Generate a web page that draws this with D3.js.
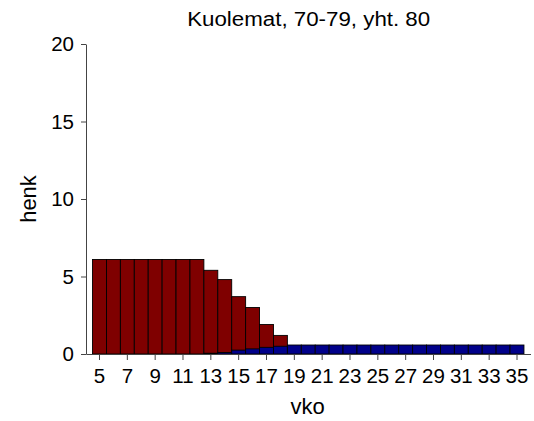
<!DOCTYPE html>
<html>
<head>
<meta charset="utf-8">
<script src="https://cdn.jsdelivr.net/npm/d3@7/dist/d3.min.js"></script>
<style>
  html, body { margin: 0; padding: 0; background: #fff; }
  svg { display: block; font-family: "Liberation Sans", Arial, sans-serif; }
</style>
</head>
<body>
<svg id="chart" width="534" height="421"></svg>
<script>
// Weekly deaths, age group 70-79
const weeks = [5, 6, 7, 8, 9, 10, 11, 12, 13, 14, 15, 16, 17, 18, 19, 20,
               21, 22, 23, 24, 25, 26, 27, 28, 29, 30, 31, 32, 33, 34, 35];
const seriesRed = [6.1, 6.1, 6.1, 6.1, 6.1, 6.1, 6.1, 6.1, 5.4, 4.8, 3.7, 3.0, 1.9, 1.2, 0, 0,
                   0, 0, 0, 0, 0, 0, 0, 0, 0, 0, 0, 0, 0, 0, 0];
const seriesBlue = [0, 0, 0, 0, 0, 0, 0, 0, 0.05, 0.1, 0.25, 0.33, 0.43, 0.5, 0.58, 0.58,
                    0.58, 0.58, 0.58, 0.58, 0.58, 0.58, 0.58, 0.58, 0.58, 0.58, 0.58, 0.58, 0.58, 0.58, 0.58];
const xTickLabels = [5, 7, 9, 11, 13, 15, 17, 19, 21, 23, 25, 27, 29, 31, 33, 35];
const yTickValues = [0, 5, 10, 15, 20];
const titleText = "Kuolemat, 70-79, yht. 80";
const xTitle = "vko";
const yTitle = "henk";

const svg = d3.select("#chart");
const plotLeft = 86, plotRight = 530.5, plotTop = 44, plotBottom = 354;
const fontFamily = "Liberation Sans, Arial, sans-serif";

const x = d3.scaleBand()
  .domain(weeks)
  .range([plotLeft, plotRight])
  .paddingInner(0)
  .paddingOuter(0.47);

const y = d3.scaleLinear()
  .domain([0, 20])
  .range([plotBottom, plotTop]);

// red bars behind, blue bars drawn over them
const bars = [
  { values: seriesRed, fill: "#7f0000" },
  { values: seriesBlue, fill: "#00008a" }
];
bars.forEach(s => {
  svg.append("g")
    .selectAll("rect")
    .data(weeks.map((w, i) => ({ w, v: s.values[i] })).filter(d => d.v > 0))
    .join("rect")
    .attr("x", d => x(d.w))
    .attr("y", d => y(d.v))
    .attr("width", x.bandwidth())
    .attr("height", d => y(0) - y(d.v))
    .attr("fill", s.fill)
    .attr("stroke", "#000")
    .attr("stroke-width", 0.9);
});

// y axis
const yAxis = svg.append("g")
  .attr("transform", `translate(${plotLeft},0)`)
  .call(d3.axisLeft(y).tickValues(yTickValues).tickSize(5).tickPadding(7).tickSizeOuter(0));
yAxis.select(".domain").attr("stroke", "#444");
yAxis.selectAll(".tick line").attr("stroke", "#444");
yAxis.selectAll("text").attr("font-size", 20.5).attr("fill", "#000")
  .attr("font-family", fontFamily);

// x axis
const xAxis = svg.append("g")
  .attr("transform", `translate(0,${plotBottom})`)
  .call(d3.axisBottom(x).tickValues(xTickLabels).tickSize(6).tickPadding(8.5).tickSizeOuter(0));
xAxis.select(".domain").attr("stroke", "#444");
xAxis.selectAll(".tick line").attr("stroke", "#444");
xAxis.selectAll("text").attr("font-size", 20.5).attr("fill", "#000")
  .attr("font-family", fontFamily);

// titles
svg.append("text")
  .attr("x", 308.7)
  .attr("y", 26)
  .attr("text-anchor", "middle")
  .attr("font-size", 20)
  .attr("textLength", 243)
  .attr("lengthAdjust", "spacingAndGlyphs")
  .text(titleText);

svg.append("text")
  .attr("x", 307.5)
  .attr("y", 413.5)
  .attr("text-anchor", "middle")
  .attr("font-size", 22)
  .text(xTitle);

svg.append("text")
  .attr("transform", `translate(36,${(plotTop + plotBottom) / 2}) rotate(-90)`)
  .attr("text-anchor", "middle")
  .attr("font-size", 22)
  .text(yTitle);
</script>
</body>
</html>
